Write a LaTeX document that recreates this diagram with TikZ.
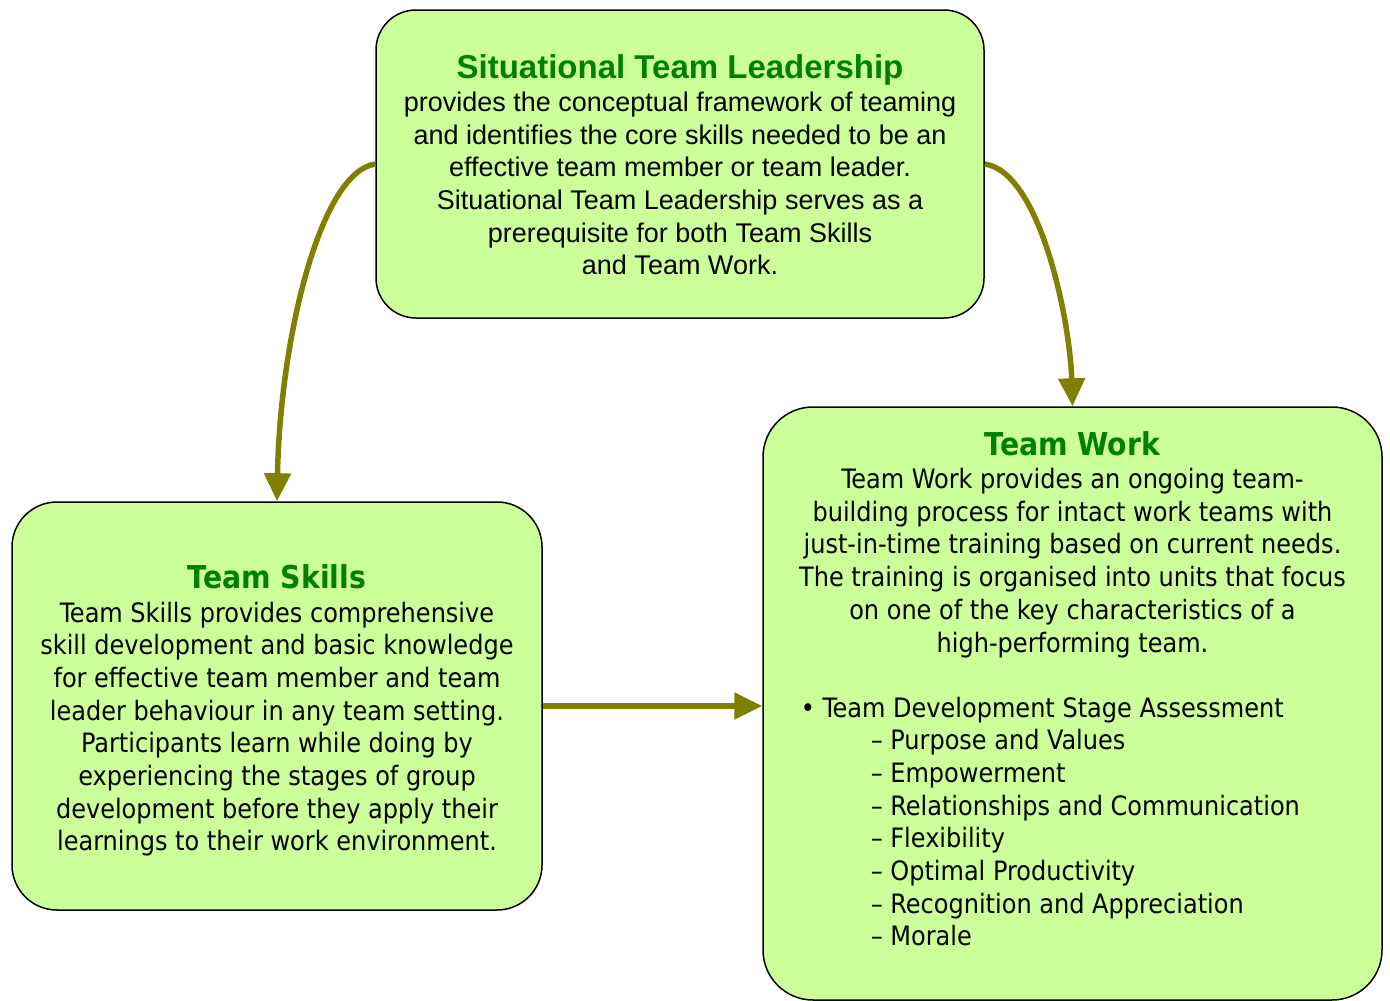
\documentclass[tikz,border=0pt]{standalone}
\usepackage{fontspec}
\setmainfont{Liberation Sans}
\newfontfamily\tahomafont{DejaVu Sans Condensed}
\usetikzlibrary{arrows.meta}
\definecolor{boxfill}{RGB}{204,255,153}
\definecolor{titlegreen}{RGB}{0,128,0}
\definecolor{arrowolive}{RGB}{128,128,0}
\tikzset{every picture/.style={line width=1.5pt},
	card/.style={draw=black,fill=boxfill,rounded corners=#1,inner sep=0pt},
	card/.default=40pt,
	heading/.style={text=titlegreen,anchor=mid,inner sep=0pt},
	bodytext/.style={align=center,anchor=north,inner sep=0pt},
	flow/.style={draw=arrowolive,line width=5.5pt,-{Triangle[length=28pt,width=26pt]}}}

\begin{document}
\begin{tikzpicture}[x=1pt,y=1pt,yscale=-1,xscale=1]
	\useasboundingbox (0,0) rectangle (1390,1001);

	%Shape: Rounded Rectangle [id:stl]
	\node [card, minimum width=608pt, minimum height=308pt] (stl) at (680,164) {};
	%Shape: Rounded Rectangle [id:skills]
	\node [card=45pt, minimum width=530pt, minimum height=408pt] (skills) at (277,706) {};
	%Shape: Rounded Rectangle [id:work]
	\node [card=50pt, minimum width=619pt, minimum height=593pt] (work) at (1072.5,703.5) {};

	% Text Node
	\node [heading, font=\fontsize{33}{38}\selectfont\bfseries] (stltitle) at (680,76) {Situational Team Leadership};
	% Text Node
	\node [bodytext, font=\fontsize{27}{32.7}\selectfont] (stlbody) at (680,91) {provides the conceptual framework of teaming\\and identifies the core skills needed to be an\\effective team member or team leader.\\Situational Team Leadership serves as a\\prerequisite for both Team Skills\\and Team Work.};

	% Text Node
	\node [heading, font=\tahomafont\fontsize{31.5}{38}\selectfont\bfseries] (skillstitle) at (277,586) {Team Skills};
	% Text Node
	\node [bodytext, font=\tahomafont\fontsize{26.7}{32.7}\selectfont] (skillsbody) at (277,601) {Team Skills provides comprehensive\\skill development and basic knowledge\\for effective team member and team\\leader behaviour in any team setting.\\Participants learn while doing by\\experiencing the stages of group\\development before they apply their\\learnings to their work environment.};

	% Text Node
	\node [heading, font=\tahomafont\fontsize{31.5}{38}\selectfont\bfseries] (worktitle) at (1072.5,453) {Team Work};
	% Text Node
	\node [bodytext, font=\tahomafont\fontsize{26.7}{32.7}\selectfont] (workbody) at (1072.5,467.5) {Team Work provides an ongoing team-\\building process for intact work teams with\\just-in-time training based on current needs.\\The training is organised into units that focus\\on one of the key characteristics of a\\high-performing team.};
	% Text Node
	\node [align=left, anchor=north west, inner sep=0pt, font=\tahomafont\fontsize{26.7}{32.7}\selectfont] (worklist) at (800,696) {\textbullet\ Team Development Stage Assessment\\
		\hspace*{70pt}– Purpose and Values\\
		\hspace*{70pt}– Empowerment\\
		\hspace*{70pt}– Relationships and Communication\\
		\hspace*{70pt}– Flexibility\\
		\hspace*{70pt}– Optimal Productivity\\
		\hspace*{70pt}– Recognition and Appreciation\\
		\hspace*{70pt}– Morale};

	%Curve Lines [id:stl-skills]
	\draw [flow] (stl.west) .. controls (320,172) and (280,340) .. (skills.north);
	%Curve Lines [id:stl-work]
	\draw [flow] (stl.east) .. controls (1040,172) and (1070,320) .. (work.north);
	%Straight Lines [id:skills-work]
	\draw [flow] (skills.east) -- (skills.east -| work.west);

\end{tikzpicture}
\end{document}
